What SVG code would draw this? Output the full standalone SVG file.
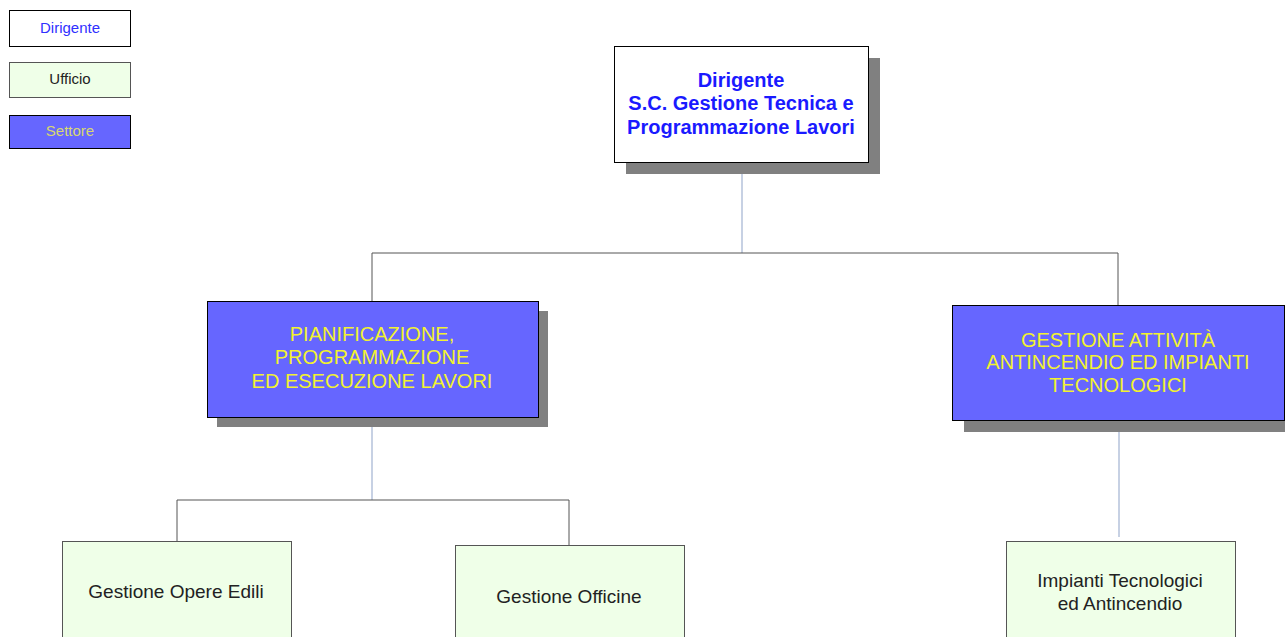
<svg xmlns="http://www.w3.org/2000/svg" width="1285" height="637" viewBox="0 0 1285 637">
<style>
.shadow{fill:#808080}
.dir{fill:#ffffff;stroke:#000;stroke-width:1}
.set{fill:#6666ff;stroke:#000;stroke-width:1}
.uff{fill:#efffe8;stroke:#555;stroke-width:1}
.t{font-family:"Liberation Sans",Arial,sans-serif;text-anchor:middle}
.tdir{fill:#1a1aff;font-weight:bold;font-size:20px}
.tset{fill:#f2f230;font-size:20px}
.tuff{fill:#222;font-size:19px}
.leg{font-size:15px}
.c{fill:none;stroke:#555;stroke-width:1}
.cb{fill:none;stroke:#8fa3c8;stroke-width:1}
</style>
<rect width="1285" height="637" fill="#fff"/>
<g id="legend">
<g id="leg-dirigente"><rect x="9.5" y="10.5" width="121" height="36" class="dir" stroke="#333"/><text x="70" y="33" class="t leg" fill="#3030ff">Dirigente</text></g>
<g id="leg-ufficio"><rect x="9.5" y="62.5" width="121" height="35" class="uff"/><text x="70" y="84" class="t leg" fill="#222">Ufficio</text></g>
<g id="leg-settore"><rect x="9.5" y="115.5" width="121" height="33" class="set"/><text x="70" y="136" class="t leg" fill="#d8d870">Settore</text></g>
</g>
<g id="connectors">
<path class="cb" d="M742 162V253"/>
<path class="c" d="M372 301V253H1118V305"/>
<path class="cb" d="M372 417V500"/>
<path class="c" d="M177 541V500H569V545"/>
<path class="cb" d="M1119 420V537"/>
</g>
<g id="n-dirigente">
<rect x="626" y="58" width="254" height="116" class="shadow"/>
<rect x="614.5" y="46.5" width="254" height="116" class="dir"/>
<text class="t tdir"><tspan x="741" y="87">Dirigente</tspan><tspan x="741" y="110">S.C. Gestione Tecnica e</tspan><tspan x="741" y="134">Programmazione Lavori</tspan></text>
</g>
<g id="n-pianificazione">
<rect x="217" y="311" width="331" height="116" class="shadow"/>
<rect x="207.5" y="301.5" width="331" height="116" class="set"/>
<text class="t tset"><tspan x="372" y="341">PIANIFICAZIONE,</tspan><tspan x="372" y="364">PROGRAMMAZIONE</tspan><tspan x="372" y="388">ED ESECUZIONE LAVORI</tspan></text>
</g>
<g id="n-antincendio">
<rect x="964" y="317" width="321" height="115" class="shadow"/>
<rect x="952.5" y="305.5" width="332" height="115" class="set"/>
<text class="t tset"><tspan x="1118" y="347">GESTIONE ATTIVITÀ</tspan><tspan x="1118" y="369">ANTINCENDIO ED IMPIANTI</tspan><tspan x="1118" y="392">TECNOLOGICI</tspan></text>
</g>
<g id="n-opere-edili">
<rect x="62.5" y="541.5" width="229" height="110" class="uff"/>
<text x="176" y="598" class="t tuff">Gestione Opere Edili</text>
</g>
<g id="n-officine">
<rect x="455.5" y="545.5" width="229" height="110" class="uff"/>
<text x="569" y="603" class="t tuff">Gestione Officine</text>
</g>
<g id="n-impianti">
<rect x="1006.5" y="541.5" width="229" height="110" class="uff"/>
<text class="t tuff"><tspan x="1120" y="587">Impianti Tecnologici</tspan><tspan x="1120" y="610">ed Antincendio</tspan></text>
</g>
</svg>
